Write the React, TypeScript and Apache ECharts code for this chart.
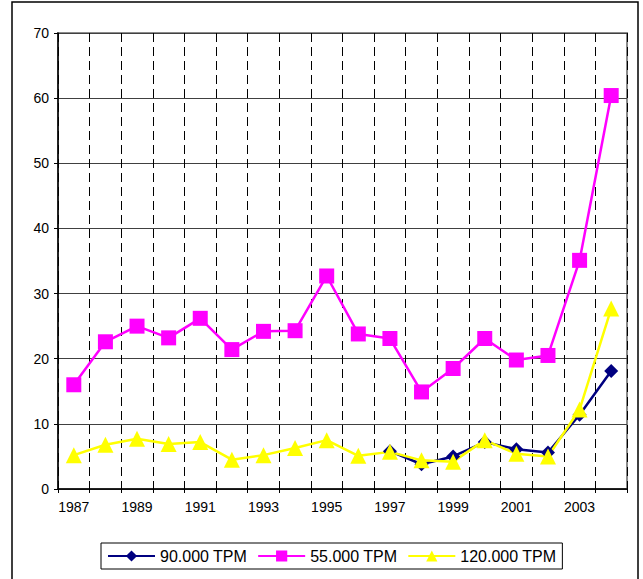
import React, { useEffect, useRef } from "react";
import * as echarts from "echarts";

const years = ["1987","1988","1989","1990","1991","1992","1993","1994","1995","1996","1997","1998","1999","2000","2001","2002","2003","2004"];
const tpm90 = [null,null,null,null,null,null,null,null,null,null,5.8,3.8,5.0,7.2,6.1,5.6,11.4,18.1];
const tpm55 = [16.0,22.6,25.0,23.2,26.2,21.4,24.2,24.3,32.7,23.8,23.1,14.9,18.5,23.1,19.8,20.5,35.1,60.4];
const tpm120 = [5.2,6.8,7.7,6.9,7.2,4.5,5.2,6.3,7.5,5.1,5.7,4.4,4.2,7.5,5.4,5.0,12.2,27.7];
const seriesNames = ["90.000 TPM", "55.000 TPM", "120.000 TPM"];

const FONT = 'Arial, "Liberation Sans", sans-serif';

export default function App() {
  const ref = useRef<HTMLDivElement>(null);
  useEffect(() => {
    if (!ref.current) return;
    const chart = echarts.init(ref.current, null, { renderer: "svg" });
    chart.setOption({
      animation: false,
      backgroundColor: "#ffffff",
      textStyle: { fontFamily: FONT },
      graphic: [
        {
          type: "rect",
          shape: { x: 12, y: 2, width: 626, height: 620 },
          style: { fill: "none", stroke: "#000", lineWidth: 1.5 },
          z: 100,
        },
      ],
      grid: {
        left: 58,
        top: 33,
        right: 16,
        bottom: 90,
        show: true,
        backgroundColor: "#fff",
        borderColor: "#8a8a8a",
        borderWidth: 2,
      },
      legend: {
        left: 101,
        top: 543,
        data: seriesNames,
        itemWidth: 47,
        itemHeight: 14,
        itemGap: 10,
        padding: [5, 6],
        borderColor: "#000",
        borderWidth: 1,
        textStyle: { fontSize: 16, color: "#000", fontFamily: FONT },
      },
      xAxis: {
        type: "category",
        data: years,
        boundaryGap: true,
        axisLine: { show: true, lineStyle: { color: "#000", width: 1.5 } },
        axisTick: { show: true, interval: 0, length: 4, lineStyle: { color: "#000" } },
        axisLabel: { interval: 1, color: "#000", fontSize: 14, margin: 11, fontFamily: FONT },
        splitLine: {
          show: true,
          interval: 0,
          lineStyle: { color: "#000", type: [9, 5], width: 1 },
        },
      },
      yAxis: {
        type: "value",
        min: 0,
        max: 70,
        interval: 10,
        axisLine: { show: true, lineStyle: { color: "#000", width: 1.5 } },
        axisTick: { show: true, length: 4, lineStyle: { color: "#000" } },
        axisLabel: { color: "#000", fontSize: 14, margin: 9, fontFamily: FONT },
        splitLine: { show: true, lineStyle: { color: "#404040", width: 1 } },
      },
      series: [
        {
          name: seriesNames[0],
          type: "line",
          data: tpm90,
          symbol: "diamond",
          symbolSize: 14,
          connectNulls: false,
          lineStyle: { color: "#000080", width: 2.5 },
          itemStyle: { color: "#000080" },
        },
        {
          name: seriesNames[1],
          type: "line",
          data: tpm55,
          symbol: "rect",
          symbolSize: 15,
          lineStyle: { color: "#ff00ff", width: 2.5 },
          itemStyle: { color: "#ff00ff" },
        },
        {
          name: seriesNames[2],
          type: "line",
          data: tpm120,
          symbol: "triangle",
          symbolSize: 16,
          lineStyle: { color: "#ffff00", width: 2.5 },
          itemStyle: { color: "#ffff00" },
        },
      ],
    });
    return () => chart.dispose();
  }, []);
  return (
    <div
      ref={ref}
      style={{ position: "fixed", left: 0, top: 0, width: 643, height: 579 }}
    />
  );
}
